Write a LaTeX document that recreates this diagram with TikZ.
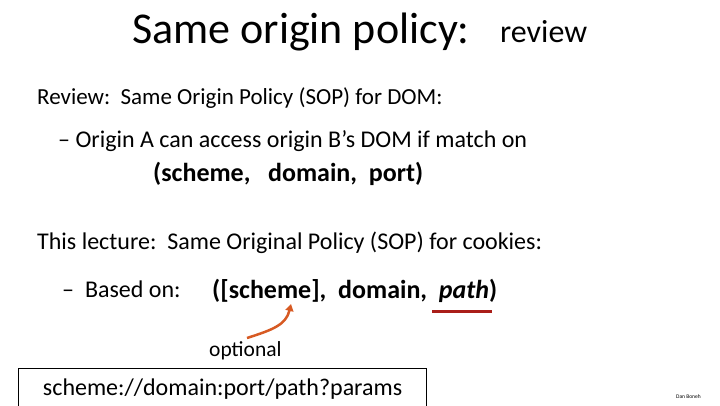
\documentclass[tikz,border=0pt]{standalone}
\usepackage{fontspec}
\usetikzlibrary{arrows.meta}
\setmainfont{Carlito}
\begin{document}
\begin{tikzpicture}[x=1pt,y=-1pt,
  txt/.style={inner sep=0pt,anchor=west},
  ]
\useasboundingbox (0,0) rectangle (720,405);
\node[txt,font=\fontsize{44}{46}\selectfont] (t1) at (132,32) {Same origin policy:};
\node[txt,font=\fontsize{32}{34}\selectfont] (t2) at (500,32) {review};
\node[txt,font=\fontsize{23}{25}\selectfont] (r1) at (37,98) {Review:\ \ Same Origin Policy (SOP) for DOM:};
\node[txt,font=\fontsize{24}{26}\selectfont] (r2) at (58,141) {\textendash\ Origin A can access origin B’s DOM if match on};
\node[txt,font=\bfseries\fontsize{26}{28}\selectfont] (r3) at (153,174) {(scheme,\ \ \ domain,\ \ port)};
\node[txt,font=\fontsize{24}{26}\selectfont] (l1) at (37,243) {This lecture:\ \ Same Original Policy (SOP) for cookies:};
\node[txt,font=\fontsize{24}{26}\selectfont] (l2) at (62,289) {\textendash\ \ Based on:};
\node[txt,font=\bfseries\fontsize{26}{28}\selectfont] (l3) at (212,291) {([scheme],\ \ domain,\ \ \textit{path})};
\coordinate (u1) at (432,311);
\coordinate (u2) at (492,311);
\draw[line width=3pt,color={rgb,255:red,170;green,30;blue,25}] (u1) -- (u2);
\node[txt,font=\fontsize{21.5}{23}\selectfont] (opt) at (209,351) {optional};
\coordinate (a1) at (247,338);
\coordinate (a2) at (291,304);
\draw[line width=2.5pt,color={rgb,255:red,215;green,90;blue,35},-{Triangle[length=7pt,width=8pt]}] (a1) .. controls (272,330) and (286,325) .. (a2);
\node[draw,line width=1.2pt,minimum width=408pt,minimum height=40pt,anchor=north west,inner sep=0pt,font=\fontsize{24}{26}\selectfont] (box) at (18,368) {scheme://domain:port/path?params};
\node[txt,font=\fontsize{5.5}{6}\selectfont] (dan) at (676,397) {Dan Boneh};
\end{tikzpicture}
\end{document}
